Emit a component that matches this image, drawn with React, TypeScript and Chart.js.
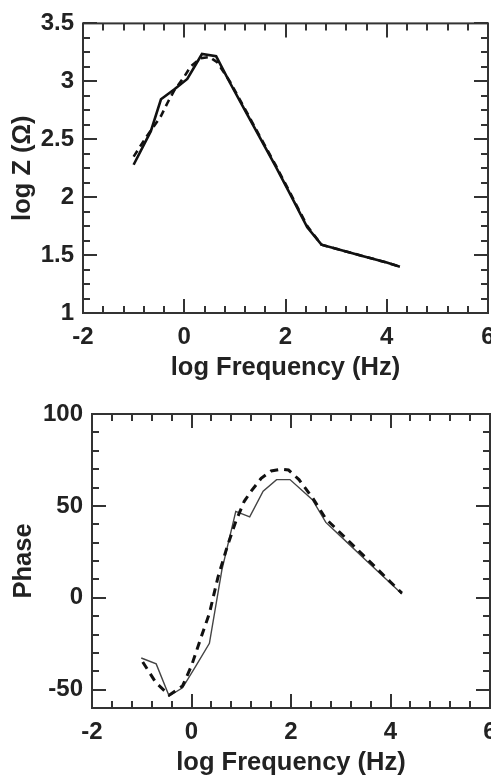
import React, { useEffect, useRef } from "react";
import { Chart, registerables } from "chart.js";

Chart.register(...registerables);

// ---- Data ----
// Top panel: log |Z| vs log frequency
const logFreqZMeasured = [-1.0, -0.66, -0.46, -0.2, 0.06, 0.35, 0.63, 0.9, 1.2, 1.5, 1.8, 2.1, 2.43, 2.71, 3.0, 3.5, 4.0, 4.26];
const logZMeasured = [2.28, 2.57, 2.845, 2.93, 3.02, 3.236, 3.216, 2.99, 2.75, 2.51, 2.27, 2.02, 1.74, 1.59, 1.555, 1.495, 1.435, 1.4];
const logFreqZFit = [-1.0, -0.75, -0.46, -0.33, -0.2, 0.0, 0.13, 0.33, 0.5, 0.65, 0.9, 1.2, 1.5, 1.8, 2.1, 2.43, 2.71, 3.0, 3.5, 4.0, 4.26];
const logZFit = [2.35, 2.52, 2.7, 2.815, 2.92, 3.04, 3.13, 3.2, 3.21, 3.165, 3.0, 2.76, 2.52, 2.28, 2.03, 1.75, 1.59, 1.555, 1.495, 1.435, 1.4];

// Bottom panel: phase vs log frequency
const logFreqPhaseMeasured = [-1.01, -0.71, -0.45, -0.18, 0.08, 0.36, 0.61, 0.89, 1.17, 1.44, 1.71, 1.98, 2.43, 2.7, 3.0, 3.5, 4.0, 4.23];
const phaseMeasured = [-32.8, -36, -53.5, -49, -37.5, -24.8, 15, 47, 44, 58, 64.3, 64.3, 53.4, 41, 33.4, 20.6, 7.9, 2];
const logFreqPhaseFit = [-0.98, -0.72, -0.45, -0.18, 0.0, 0.2, 0.36, 0.53, 0.72, 0.89, 1.06, 1.2, 1.4, 1.6, 1.8, 1.95, 2.16, 2.43, 2.7, 3.0, 3.5, 4.0, 4.23];
const phaseFit = [-35, -46, -53, -48, -37, -21, -8.5, 11, 28, 41.5, 52.5, 58, 65, 69, 70, 69.5, 64.3, 54.5, 43, 35.1, 21.9, 8.6, 2.5];

// Tick labels
const freqTicks = [-2, 0, 2, 4, 6];
const logZTicks = [1, 1.5, 2, 2.5, 3, 3.5];
const phaseTicks = [-50, 0, 50, 100];

const FONT = "'Liberation Sans', Arial, Helvetica, sans-serif";
const TEXT = "#222";
const FRAME = "#333";

const framePlugin = {
  id: "frame",
  afterDraw(chart: any, _args: any, opts: any) {
    const { ctx, chartArea: a, scales } = chart;
    const xs = scales.x;
    const ys = scales.y;
    ctx.save();
    ctx.strokeStyle = FRAME;
    ctx.lineWidth = 2;
    ctx.lineCap = "butt";
    const drawX = (v: number, len: number) => {
      const p = Math.round(xs.getPixelForValue(v));
      ctx.beginPath();
      ctx.moveTo(p, a.bottom);
      ctx.lineTo(p, a.bottom - len);
      ctx.moveTo(p, a.top);
      ctx.lineTo(p, a.top + len);
      ctx.stroke();
    };
    const drawY = (v: number, len: number) => {
      const p = Math.round(ys.getPixelForValue(v));
      ctx.beginPath();
      ctx.moveTo(a.left, p);
      ctx.lineTo(a.left + len, p);
      ctx.moveTo(a.right, p);
      ctx.lineTo(a.right - len, p);
      ctx.stroke();
    };
    const minorLoop = (min: number, max: number, step: number, major: number[], fn: (v: number, l: number) => void) => {
      const n = Math.round((max - min) / step);
      for (let i = 0; i <= n; i++) {
        const v = min + i * step;
        const isMajor = major.some((m) => Math.abs(m - v) < step / 10);
        fn(v, isMajor ? 14 : 7);
      }
    };
    minorLoop(xs.min, xs.max, opts.xMinor, opts.xMajor, drawX);
    minorLoop(ys.min, ys.max, opts.yMinor, opts.yMajor, drawY);
    ctx.strokeRect(a.left, a.top, a.right - a.left, a.bottom - a.top);
    ctx.restore();
  },
};

type PanelProps = {
  top: number;
  height: number;
  datasets: any[];
  xTicks: number[];
  yTicks: number[];
  xMin: number;
  xMax: number;
  yMin: number;
  yMax: number;
  xMinor: number;
  yMinor: number;
  yTitle: string;
  yAxisWidth: number;
  xAxisHeight: number;
  padTop: number;
  padRight: number;
  xTitlePadBottom: number;
  yTitlePadTop: number;
};

const CANVAS_W = 520;

function Panel(p: PanelProps) {
  const ref = useRef<HTMLCanvasElement | null>(null);
  useEffect(() => {
    if (!ref.current) return;
    const chart = new Chart(ref.current, {
      type: "line",
      data: { datasets: p.datasets },
      plugins: [framePlugin],
      options: {
        animation: false,
        responsive: false,
        devicePixelRatio: 1,
        layout: { padding: { top: p.padTop, right: p.padRight, left: 0, bottom: 0 } },
        plugins: {
          legend: { display: false },
          tooltip: { enabled: false },
          // @ts-ignore
          frame: { xMinor: p.xMinor, yMinor: p.yMinor, xMajor: p.xTicks, yMajor: p.yTicks },
        },
        elements: { point: { radius: 0 }, line: { tension: 0 } },
        scales: {
          x: {
            type: "linear",
            min: p.xMin,
            max: p.xMax,
            grid: { display: false, drawTicks: false },
            border: { display: false },
            afterBuildTicks: (s: any) => {
              s.ticks = p.xTicks.map((v) => ({ value: v }));
            },
            afterFit: (s: any) => {
              s.height = p.xAxisHeight;
            },
            ticks: {
              padding: 10,
              color: TEXT,
              maxRotation: 0,
              autoSkip: false,
              callback: (v: any) => String(v),
              font: { family: FONT, size: 24, weight: "bold" },
            },
            title: {
              display: true,
              text: "log Frequency (Hz)",
              color: TEXT,
              padding: { top: 0, bottom: p.xTitlePadBottom },
              font: { family: FONT, size: 25.5, weight: "bold" },
            },
          },
          y: {
            type: "linear",
            min: p.yMin,
            max: p.yMax,
            grid: { display: false, drawTicks: false },
            border: { display: false },
            afterBuildTicks: (s: any) => {
              s.ticks = p.yTicks.map((v) => ({ value: v }));
            },
            afterFit: (s: any) => {
              s.width = p.yAxisWidth;
            },
            ticks: {
              padding: 9,
              color: TEXT,
              autoSkip: false,
              callback: (v: any) => String(v),
              font: { family: FONT, size: 24, weight: "bold" },
            },
            title: {
              display: true,
              text: p.yTitle,
              color: TEXT,
              padding: { top: p.yTitlePadTop, bottom: 0 },
              font: { family: FONT, size: 25.5, weight: "bold" },
            },
          },
        },
      } as any,
    });
    return () => chart.destroy();
  }, []);
  return (
    <canvas
      ref={ref}
      width={CANVAS_W}
      height={p.height}
      style={{ position: "absolute", left: 0, top: p.top, width: CANVAS_W, height: p.height }}
    />
  );
}

const toPts = (xs: number[], ys: number[]) => xs.map((x, i) => ({ x, y: ys[i] }));

export default function App() {
  const topDatasets = [
    {
      label: "fit",
      data: toPts(logFreqZFit, logZFit),
      borderColor: "#111",
      borderWidth: 2.6,
      borderDash: [7, 5],
      fill: false,
    },
    {
      label: "measured",
      data: toPts(logFreqZMeasured, logZMeasured),
      borderColor: "#111",
      borderWidth: 2.6,
      fill: false,
    },
  ];
  const bottomDatasets = [
    {
      label: "fit",
      data: toPts(logFreqPhaseFit, phaseFit),
      borderColor: "#111",
      borderWidth: 3,
      borderDash: [8, 6],
      fill: false,
    },
    {
      label: "measured",
      data: toPts(logFreqPhaseMeasured, phaseMeasured),
      borderColor: "#444",
      borderWidth: 1.4,
      fill: false,
    },
  ];
  return (
    <div
      style={{
        position: "fixed",
        left: 0,
        top: 0,
        width: 491,
        height: 778,
        overflow: "hidden",
        background: "#fff",
      }}
    >
      <Panel
        top={0}
        height={390}
        datasets={topDatasets}
        xTicks={freqTicks}
        yTicks={logZTicks}
        xMin={-2}
        xMax={6}
        yMin={1}
        yMax={3.5}
        xMinor={0.4}
        yMinor={0.125}
        yTitle="log Z (Ω)"
        yAxisWidth={83}
        xAxisHeight={77}
        padTop={22}
        padRight={CANVAS_W - 488}
        xTitlePadBottom={7}
        yTitlePadTop={8}
      />
      <Panel
        top={390}
        height={388}
        datasets={bottomDatasets}
        xTicks={freqTicks}
        yTicks={phaseTicks}
        xMin={-2}
        xMax={6}
        yMin={-60}
        yMax={100}
        xMinor={0.4}
        yMinor={10}
        yTitle="Phase"
        yAxisWidth={92}
        xAxisHeight={70}
        padTop={24}
        padRight={CANVAS_W - 490}
        xTitlePadBottom={0}
        yTitlePadTop={9}
      />
    </div>
  );
}
